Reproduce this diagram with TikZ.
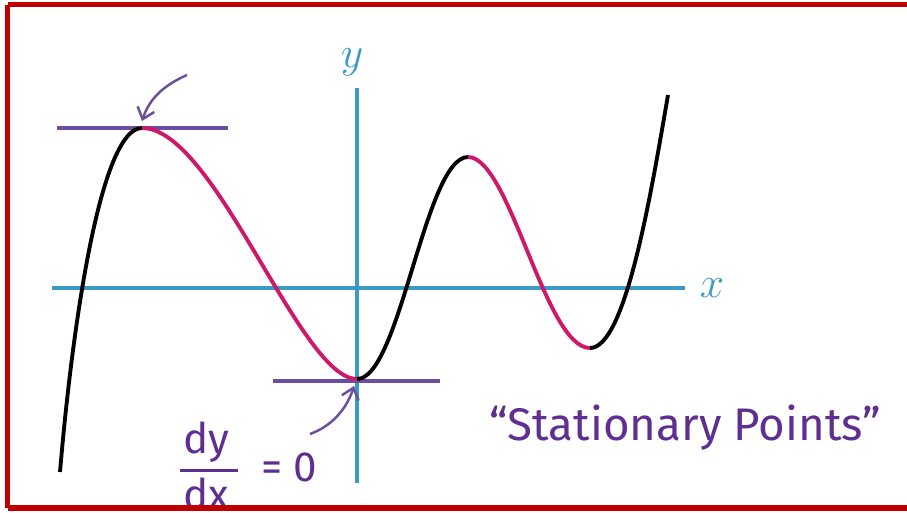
\documentclass[tikz,border=0pt]{standalone}
\usepackage{fontspec}
\setmainfont{Fira Sans}
\usetikzlibrary{arrows.meta}
\definecolor{axisblue}{HTML}{3A9CC4}
\definecolor{tanpurple}{HTML}{6A4F9E}
\definecolor{curvepink}{HTML}{D0186A}
\definecolor{textpurple}{HTML}{5E2E91}
\definecolor{framered}{HTML}{C00000}
\begin{document}
\begin{tikzpicture}[x=0.02cm,y=-0.02cm,
    axis/.style={axisblue,line width=2.3pt},
    tangent/.style={tanpurple,line width=1.8pt},
    rising/.style={black,line width=2.2pt},
    falling/.style={curvepink,line width=2.2pt},
    pointer/.style={tanpurple,line width=1.4pt,-{Straight Barb[length=6pt,width=10pt]}},
    lbl/.style={textpurple,inner sep=0pt}]
    \useasboundingbox (0,0) rectangle (907,512);
    % axes
    \coordinate (xl) at (52,288);
    \coordinate (xr) at (685,288);
    \coordinate (yt) at (357,88);
    \coordinate (yb) at (357,483);
    \draw[axis] (xl) -- (xr);
    \draw[axis] (yt) -- (yb);
    \node[axisblue,inner sep=0pt,font=\fontsize{24}{24}\selectfont] (xlab) at (712,288) {$x$};
    \node[axisblue,inner sep=0pt,font=\fontsize{24}{24}\selectfont] (ylab) at (352,62) {$y$};
    % turning points
    \coordinate (start) at (60,472);
    \coordinate (max1) at (142,128);
    \coordinate (min1) at (357,379);
    \coordinate (max2) at (468,157);
    \coordinate (min2) at (590,348);
    \coordinate (end) at (668,95);
    % tangents
    \coordinate (t1l) at (57,128);
    \coordinate (t1r) at (228,128);
    \coordinate (t2l) at (273,381);
    \coordinate (t2r) at (440,381);
    \draw[tangent] (t1l) -- (t1r);
    \draw[tangent] (t2l) -- (t2r);
    % the curve
    \draw[rising] (start) .. controls (72,330) and (100,128) .. (max1);
    \draw[falling] (max1) .. controls (215,128) and (300,379) .. (min1);
    \draw[rising] (min1) .. controls (400,379) and (425,157) .. (max2);
    \draw[falling] (max2) .. controls (510,157) and (545,348) .. (min2);
    \draw[rising] (min2) .. controls (625,348) and (650,200) .. (end);
    % pointers
    \coordinate (p1) at (187,75);
    \coordinate (p2) at (310,434);
    \draw[pointer] (p1) .. controls (162,86) and (149,100) .. (142,121);
    \draw[pointer] (p2) .. controls (335,425) and (348,405) .. (354,386);
    % labels
    \node[lbl,font=\fontsize{24}{24}\selectfont] (dy) at (206,442) {dy};
    \node[lbl,font=\fontsize{24}{24}\selectfont] (dx) at (206,494) {dx};
    \draw[textpurple,line width=1.5pt] (dy.south west) ++(-3,8) coordinate (bar) -- ++(58,0);
    \node[lbl,font=\fontsize{24}{24}\selectfont] (zero) at (289,467) {= 0};
    \node[lbl,font=\fontsize{26}{26}\selectfont] (title) at (685,428) {``Stationary Points''};
    % frame
    \draw[framered,line width=3.4pt] (7.5,4.5) -- (7.5,508);
    \draw[framered,line width=3.4pt] (7.5,4.5) -- (907,4.5);
    \draw[framered,line width=3.4pt] (7.5,508) -- (907,508);
\end{tikzpicture}
\end{document}
